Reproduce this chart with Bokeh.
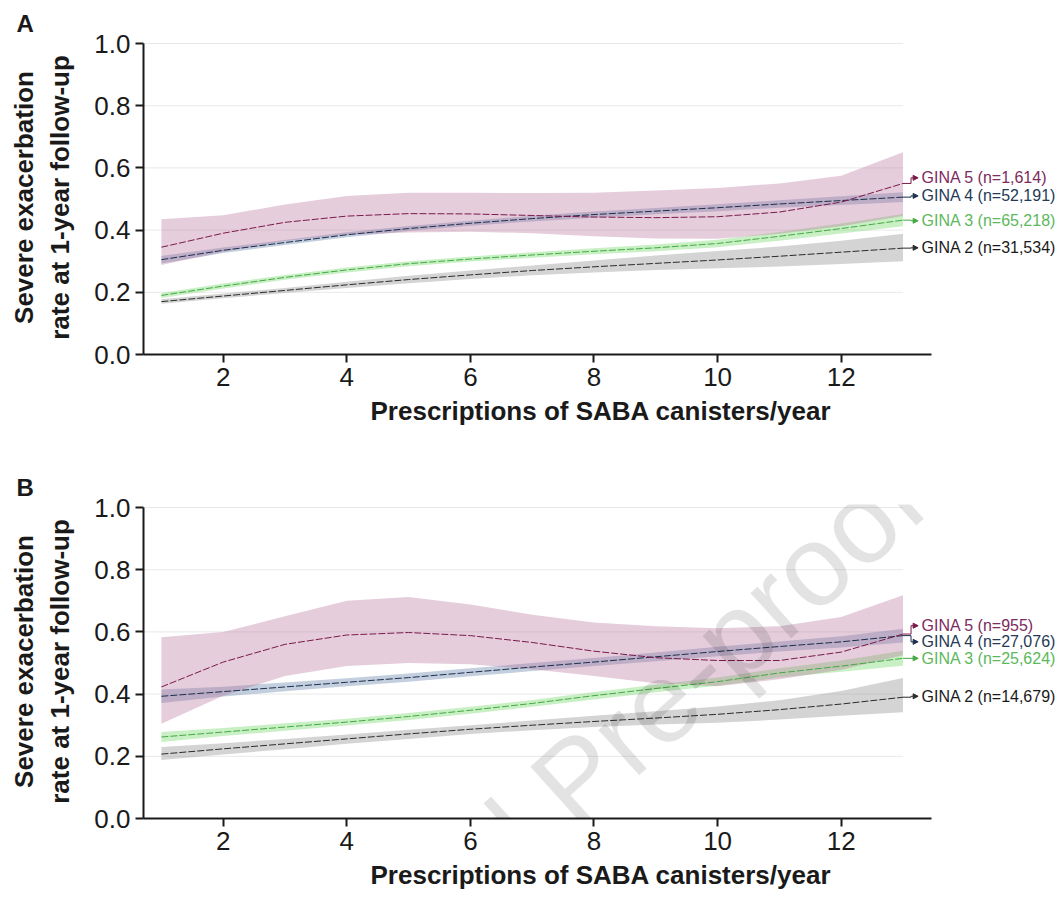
import math
from bokeh.plotting import figure
from bokeh.models import FixedTicker, PrintfTickFormatter, Label, Arrow, NormalHead
from bokeh.layouts import column
from bokeh.core.properties import value
from bokeh.embed import file_html
from bokeh.resources import INLINE

# ---------------- data ----------------
x = [1, 2, 3, 4, 5, 6, 7, 8, 9, 10, 11, 12, 13]
x_ticks = [2, 4, 6, 8, 10, 12]
y_ticks = [0.0, 0.2, 0.4, 0.6, 0.8, 1.0]
grid_ticks = [0.2, 0.4, 0.6, 0.8, 1.0]
series_names = ["GINA 2", "GINA 3", "GINA 4", "GINA 5"]

# Panel A
a2_mid = [0.170, 0.188, 0.206, 0.224, 0.241, 0.256, 0.270, 0.282, 0.293, 0.304, 0.316, 0.329, 0.342]
a2_lo = [0.163, 0.181, 0.198, 0.214, 0.229, 0.243, 0.255, 0.264, 0.272, 0.277, 0.283, 0.291, 0.300]
a2_hi = [0.178, 0.196, 0.214, 0.234, 0.253, 0.270, 0.286, 0.302, 0.318, 0.333, 0.347, 0.366, 0.388]
a3_mid = [0.190, 0.220, 0.248, 0.272, 0.292, 0.307, 0.320, 0.332, 0.343, 0.357, 0.380, 0.405, 0.432]
a3_lo = [0.182, 0.212, 0.240, 0.264, 0.284, 0.299, 0.311, 0.322, 0.332, 0.345, 0.366, 0.389, 0.412]
a3_hi = [0.198, 0.228, 0.256, 0.280, 0.300, 0.315, 0.329, 0.342, 0.354, 0.369, 0.394, 0.421, 0.452]
a4_mid = [0.305, 0.335, 0.360, 0.385, 0.405, 0.422, 0.437, 0.450, 0.461, 0.472, 0.484, 0.495, 0.506]
a4_lo = [0.293, 0.326, 0.352, 0.377, 0.397, 0.414, 0.428, 0.440, 0.451, 0.461, 0.472, 0.481, 0.490]
a4_hi = [0.317, 0.344, 0.368, 0.393, 0.413, 0.430, 0.446, 0.460, 0.471, 0.483, 0.496, 0.509, 0.522]
a5_mid = [0.345, 0.390, 0.425, 0.445, 0.453, 0.452, 0.447, 0.442, 0.440, 0.443, 0.458, 0.490, 0.550]
a5_lo = [0.288, 0.330, 0.365, 0.385, 0.392, 0.395, 0.390, 0.380, 0.373, 0.372, 0.388, 0.412, 0.445]
a5_hi = [0.435, 0.448, 0.482, 0.510, 0.520, 0.520, 0.519, 0.520, 0.527, 0.535, 0.550, 0.575, 0.650]
labels_a = ["GINA 2 (n=31,534)", "GINA 3 (n=65,218)", "GINA 4 (n=52,191)", "GINA 5 (n=1,614)"]
label_y_a = [0.343, 0.430, 0.510, 0.568]

# Panel B
b2_mid = [0.207, 0.224, 0.240, 0.256, 0.272, 0.287, 0.300, 0.312, 0.323, 0.335, 0.350, 0.368, 0.390]
b2_lo = [0.188, 0.206, 0.223, 0.240, 0.256, 0.272, 0.284, 0.294, 0.302, 0.308, 0.318, 0.330, 0.342]
b2_hi = [0.230, 0.242, 0.256, 0.270, 0.285, 0.300, 0.315, 0.330, 0.345, 0.360, 0.380, 0.410, 0.452]
b3_mid = [0.262, 0.278, 0.294, 0.310, 0.328, 0.348, 0.370, 0.395, 0.418, 0.440, 0.468, 0.490, 0.515]
b3_lo = [0.246, 0.265, 0.282, 0.299, 0.317, 0.337, 0.359, 0.383, 0.406, 0.427, 0.453, 0.472, 0.491]
b3_hi = [0.278, 0.291, 0.306, 0.321, 0.339, 0.359, 0.381, 0.407, 0.430, 0.453, 0.483, 0.508, 0.539]
b4_mid = [0.393, 0.408, 0.423, 0.438, 0.453, 0.470, 0.487, 0.503, 0.520, 0.537, 0.553, 0.568, 0.588]
b4_lo = [0.371, 0.392, 0.409, 0.425, 0.440, 0.457, 0.474, 0.490, 0.506, 0.522, 0.537, 0.550, 0.566]
b4_hi = [0.415, 0.424, 0.437, 0.451, 0.466, 0.483, 0.500, 0.516, 0.534, 0.552, 0.569, 0.586, 0.610]
b5_mid = [0.423, 0.503, 0.560, 0.590, 0.598, 0.588, 0.566, 0.538, 0.517, 0.508, 0.508, 0.535, 0.593]
b5_lo = [0.305, 0.395, 0.458, 0.490, 0.500, 0.496, 0.480, 0.458, 0.435, 0.425, 0.448, 0.478, 0.525]
b5_hi = [0.583, 0.600, 0.650, 0.700, 0.712, 0.688, 0.655, 0.630, 0.618, 0.612, 0.618, 0.648, 0.718]
labels_b = ["GINA 2 (n=14,679)", "GINA 3 (n=25,624)", "GINA 4 (n=27,076)", "GINA 5 (n=955)"]
label_y_b = [0.393, 0.515, 0.568, 0.620]

# ---------------- style ----------------
line_colors = ["#2b2b2b", "#45a845", "#1b2f4d", "#7a1a4a"]
band_colors = ["#999999", "#7ddb72", "#6f8ab0", "#b5709a"]
band_alphas = [0.42, 0.42, 0.42, 0.35]
text_colors = ["#1a1a1a", "#5cb85c", "#243a55", "#7d2a5c"]
FONT = "Liberation Sans"
AX = "#1a1a1a"

FIG_W = 1058
LEFT = 143
X_LO = 0.7104
PX_PER_X = 61.8
X_HI = X_LO + (FIG_W - LEFT) / PX_PER_X
PX_PER_Y = 311.0
FRAME_H = 314
Y_HI = FRAME_H / PX_PER_Y


def make_panel(letter, mids, los, his, labels, label_y, height, border_top, page_top):
    border_bottom = height - border_top - FRAME_H
    p = figure(width=FIG_W, height=height, x_range=(X_LO, X_HI), y_range=(0, Y_HI),
               output_backend="svg", toolbar_location=None,
               min_border_left=LEFT, min_border_right=0,
               min_border_top=border_top, min_border_bottom=border_bottom)
    p.outline_line_color = None
    p.xgrid.visible = False
    p.ygrid.visible = False

    # panel letter as a left-shifted title
    p.title.text = letter
    p.title.text_font = FONT
    p.title.text_font_size = "24px"
    p.title.text_font_style = "bold"
    p.title.text_color = AX
    p.title.align = "left"
    p.title.offset = -(LEFT - 16)
    p.title.standoff = 7

    # light horizontal grid lines (stop at the data end)
    p.segment(x0=[X_LO] * len(grid_ticks), y0=grid_ticks, x1=[x[-1]] * len(grid_ticks),
              y1=grid_ticks, line_color="#e9e9e9", line_width=1)

    for i in range(4):
        p.varea(x=x, y1=los[i], y2=his[i], fill_color=band_colors[i], fill_alpha=band_alphas[i])
    for i in range(4):
        p.line(x, mids[i], line_color=line_colors[i], line_width=1, line_dash="7 2")

    # connector arrows + labels
    x_end = x[-1]
    for i in range(4):
        ye = mids[i][-1]
        yl = label_y[i]
        p.line([x_end, x_end + 0.13, x_end + 0.13], [ye, ye, yl],
               line_color=line_colors[i], line_width=1)
        p.add_layout(Arrow(end=NormalHead(size=5, fill_color=line_colors[i], line_color=line_colors[i]),
                           x_start=x_end + 0.13, y_start=yl, x_end=x_end + 0.245, y_end=yl,
                           line_color=line_colors[i], line_width=1))
    p.text(x=[x_end + 0.3] * 4, y=label_y, text=labels, text_color=text_colors,
           text_font=value(FONT), text_font_size="16px", text_baseline="middle", text_align="left")

    # axes
    p.xaxis.ticker = FixedTicker(ticks=x_ticks)
    p.yaxis.ticker = FixedTicker(ticks=y_ticks)
    p.yaxis.formatter = PrintfTickFormatter(format="%.1f")
    p.xaxis.bounds = (X_LO, 13.46)
    p.yaxis.bounds = (0, 1.0)
    for ax in (p.xaxis, p.yaxis):
        ax.axis_line_color = AX
        ax.axis_line_width = 2
        ax.major_tick_line_color = AX
        ax.major_tick_line_width = 2
        ax.major_tick_out = 8
        ax.major_tick_in = 0
        ax.minor_tick_line_color = None
        ax.major_label_text_font = FONT
        ax.major_label_text_font_size = "26px"
        ax.major_label_text_color = AX
        ax.axis_label_text_font = FONT
        ax.axis_label_text_font_size = "26px"
        ax.axis_label_text_font_style = "bold"
        ax.axis_label_text_color = AX
    p.xaxis.major_label_standoff = 5
    p.yaxis.major_label_standoff = 5
    p.xaxis.axis_label = "Prescriptions of SABA canisters/year"
    p.xaxis.axis_label_standoff = 7
    p.yaxis.axis_label = "Severe exacerbation\nrate at 1-year follow-up"
    p.yaxis.axis_label_standoff = 16

    # "Journal Pre-proof" watermark (page position mapped to data coordinates)
    frame_bottom_page = page_top + border_top + FRAME_H
    wx = 1 + (575 - 160.9) / PX_PER_X
    wy = (frame_bottom_page - 778) / PX_PER_Y
    p.add_layout(Label(x=wx, y=wy, text="Journal Pre-proof", text_font=FONT,
                       text_font_size="115px", text_color="#000000", text_alpha=0.11,
                       angle=math.radians(42), text_align="center", text_baseline="middle"))
    return p


pA = make_panel("A", [a2_mid, a3_mid, a4_mid, a5_mid], [a2_lo, a3_lo, a4_lo, a5_lo],
                [a2_hi, a3_hi, a4_hi, a5_hi], labels_a, label_y_a, 462, 40, 0)
pB = make_panel("B", [b2_mid, b3_mid, b4_mid, b5_mid], [b2_lo, b3_lo, b4_lo, b5_lo],
                [b2_hi, b3_hi, b4_hi, b5_hi], labels_b, label_y_b, 440, 42, 462)

layout = column(pA, pB, spacing=0)
open("out.html", "w").write(file_html(layout, INLINE))
